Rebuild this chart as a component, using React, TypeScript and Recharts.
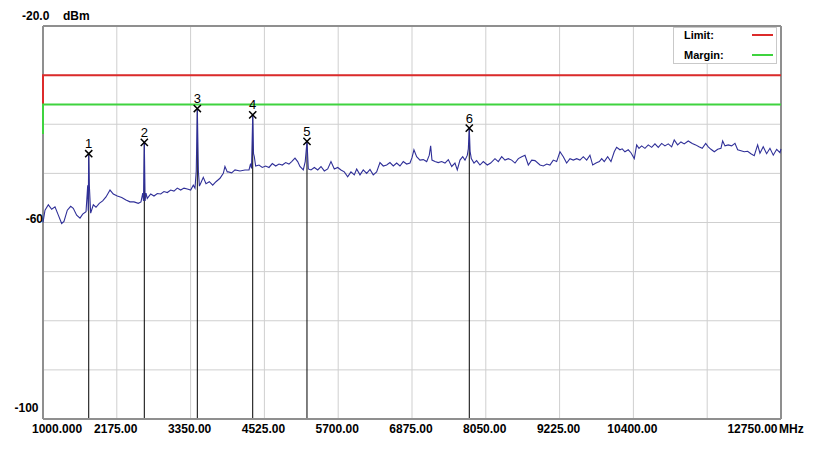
import { ComposedChart, Line, Scatter, XAxis, YAxis, CartesianGrid, ReferenceLine, Legend } from 'recharts'

const FONT = "'Liberation Sans', Arial, sans-serif"

// axis ticks (MHz / dBm)
const freqTicks = [1000, 2175, 3350, 4525, 5700, 6875, 8050, 9225, 10400, 11575, 12750]
const freqLabels = ['1000.000', '2175.00', '3350.00', '4525.00', '5700.00', '6875.00', '8050.00', '9225.00', '10400.00', '', '12750.00']
const levelTicks = [-100, -90, -80, -70, -60, -50, -40, -30, -20]

// measured trace [MHz, dBm]
const trace: [number, number][] = [
  [1000, -60.0], [1032, -57.5], [1085, -56.4], [1138, -57.3], [1191, -56.8], [1244, -58.5], [1297, -60.2],
  [1334, -59.8], [1387, -57.5], [1441, -56.7], [1482, -57.1], [1536, -58.5], [1589, -59.1], [1632, -58.3],
  [1685, -57.8], [1712, -52.4], [1720, -57.6], [1728, -46.0], [1738, -52.5], [1759, -58.1], [1801, -56.4],
  [1844, -56.9], [1896, -56.1], [1950, -55.6], [2003, -54.8], [2067, -53.4], [2119, -54.2], [2183, -54.6],
  [2253, -54.9], [2321, -55.4], [2385, -55.8], [2449, -55.8], [2517, -56.1], [2560, -55.8], [2588, -54.0],
  [2600, -55.6], [2613, -43.7], [2626, -55.6], [2640, -54.0], [2660, -55.1], [2715, -54.2], [2767, -54.6],
  [2820, -54.1], [2874, -54.2], [2926, -53.7], [2979, -53.9], [3033, -53.4], [3085, -53.6], [3138, -53.0],
  [3192, -53.4], [3245, -53.0], [3297, -53.2], [3351, -53.4], [3393, -52.4], [3420, -53.0], [3440, -49.5],
  [3457, -36.8], [3474, -49.5], [3490, -52.6], [3511, -52.0], [3552, -50.8], [3595, -52.1], [3648, -51.7],
  [3702, -52.4], [3754, -51.7], [3818, -51.0], [3871, -50.0], [3897, -48.6], [3934, -49.7], [3950, -49.7],
  [4004, -49.9], [4057, -49.3], [4136, -49.5], [4216, -49.3], [4280, -49.3], [4305, -48.0], [4320, -49.0],
  [4339, -38.1], [4352, -46.0], [4364, -46.6], [4386, -48.5], [4439, -48.3], [4491, -48.8], [4545, -48.5],
  [4598, -48.8], [4651, -48.0], [4705, -48.5], [4757, -48.1], [4810, -48.3], [4864, -47.8], [4916, -48.1],
  [4959, -47.6], [5012, -46.9], [5055, -47.6], [5091, -48.6], [5144, -49.3], [5175, -47.6], [5203, -43.5],
  [5224, -49.1], [5267, -49.3], [5320, -48.8], [5374, -49.3], [5426, -48.6], [5479, -49.5], [5533, -49.1],
  [5585, -47.6], [5638, -49.1], [5692, -48.8], [5744, -49.3], [5797, -49.7], [5851, -50.7], [5903, -49.7],
  [5956, -50.3], [5994, -49.1], [6047, -50.3], [6099, -49.3], [6153, -50.0], [6206, -49.2], [6258, -50.3],
  [6312, -49.7], [6365, -47.8], [6418, -48.5], [6472, -48.3], [6524, -47.8], [6577, -48.5], [6631, -47.9],
  [6683, -48.5], [6736, -47.6], [6790, -48.1], [6843, -47.9], [6875, -46.8], [6906, -45.2], [6949, -46.6],
  [7002, -47.3], [7055, -47.2], [7109, -47.6], [7150, -46.3], [7172, -44.4], [7193, -47.3], [7241, -47.6],
  [7293, -47.8], [7347, -47.6], [7400, -47.9], [7453, -47.2], [7507, -48.6], [7559, -47.9], [7596, -49.3],
  [7639, -47.3], [7682, -46.6], [7719, -47.3], [7756, -46.3], [7772, -45.0], [7787, -40.8], [7800, -45.5],
  [7819, -47.0], [7862, -47.9], [7904, -47.4], [7957, -48.3], [8010, -47.6], [8074, -48.3], [8127, -47.9],
  [8196, -47.0], [8249, -47.6], [8303, -46.6], [8355, -47.3], [8408, -47.0], [8462, -47.3], [8515, -47.9],
  [8568, -47.0], [8622, -46.6], [8674, -46.3], [8727, -48.3], [8781, -47.3], [8833, -47.4], [8913, -48.3],
  [8966, -48.5], [9020, -48.1], [9071, -48.3], [9124, -47.3], [9178, -47.6], [9231, -45.6], [9284, -46.6],
  [9337, -47.9], [9390, -47.0], [9443, -47.3], [9497, -47.0], [9549, -47.3], [9602, -46.6], [9656, -47.3],
  [9708, -46.3], [9752, -48.3], [9805, -47.9], [9858, -47.6], [9895, -47.0], [9936, -47.6], [9990, -46.6],
  [10043, -47.6], [10095, -45.6], [10133, -44.7], [10186, -45.2], [10222, -45.0], [10265, -45.6], [10318, -45.2],
  [10361, -45.8], [10414, -47.0], [10452, -44.2], [10489, -44.9], [10531, -44.4], [10584, -44.9], [10637, -44.2],
  [10691, -44.7], [10743, -44.0], [10796, -44.7], [10850, -43.9], [10902, -44.4], [10955, -44.0], [11009, -44.6],
  [11050, -43.2], [11104, -44.2], [11157, -43.6], [11209, -44.0], [11273, -43.4], [11337, -43.9], [11391, -44.2],
  [11444, -44.6], [11496, -44.9], [11551, -43.9], [11592, -44.6], [11635, -45.1], [11688, -45.6], [11742, -45.1],
  [11794, -44.9], [11821, -43.4], [11858, -44.4], [11910, -44.2], [11964, -44.4], [12017, -43.9], [12060, -45.2],
  [12113, -45.4], [12165, -45.6], [12219, -45.5], [12271, -46.0], [12324, -46.4], [12378, -44.2], [12415, -45.9],
  [12467, -44.6], [12521, -46.0], [12574, -44.9], [12627, -46.3], [12681, -45.1], [12734, -45.8], [12750, -45.0],
]

const limitLine: [number, number][] = [[1000, -36], [1000, -30], [12750, -30]]
const marginLine: [number, number][] = [[1000, -42], [1000, -36], [12750, -36]]

// peak markers [MHz, dBm]
const markers: [number, number][] = [
  [1728, -46.0], [2613, -43.7], [3457, -36.8], [4339, -38.1], [5203, -43.5], [7787, -40.8],
]

const toPoints = (arr: [number, number][]) => arr.map(([f, v]) => ({ f, v }))
const traceData = toPoints(trace)
const limitData = toPoints(limitLine)
const marginData = toPoints(marginLine)
const markerData = markers.map(([f, v], i) => ({ f, v, n: i + 1 }))

const BORDER = '#8f8f8f'
const labelStyle = { fontFamily: FONT, fontSize: 12, fontWeight: 'bold', fill: '#000' }

function FreqTick({ x, y, payload }: any) {
  const i = freqTicks.indexOf(payload.value)
  const label = freqLabels[i]
  if (!label) return null
  const ty = y + 13.5
  if (i === 0) {
    return <text x={x - 11} y={ty} textAnchor="start" {...labelStyle}>{label}</text>
  }
  if (i === freqTicks.length - 1) {
    return (
      <g>
        <text x={x - 3.5} y={ty} textAnchor="end" {...labelStyle}>{label}</text>
        <text x={x - 2} y={ty} textAnchor="start" {...labelStyle}>MHz</text>
      </g>
    )
  }
  return <text x={x - 1} y={ty} textAnchor="middle" {...labelStyle}>{label}</text>
}

function LevelTick({ x, y, payload }: any) {
  const v = payload.value
  if (v === -20) {
    return (
      <g>
        <text x={x - 21} y={y - 6} textAnchor="start" {...labelStyle}>-20.0</text>
        <text x={x + 20} y={y - 6} textAnchor="start" {...labelStyle}>dBm</text>
      </g>
    )
  }
  if (v === -60) return <text x={x} y={y + 0.5} textAnchor="end" {...labelStyle}>-60</text>
  if (v === -100) return <text x={x - 4.5} y={y - 7.5} textAnchor="end" {...labelStyle}>-100</text>
  return null
}

function MarkerShape({ cx, cy, payload }: any) {
  const s = 3.6
  return (
    <g>
      <path
        d={`M${cx - s},${cy - s}L${cx + s},${cy + s}M${cx + s},${cy - s}L${cx - s},${cy + s}`}
        stroke="#000"
        strokeWidth={1.5}
        fill="none"
      />
      <text x={cx} y={cy - 5.5} textAnchor="middle" fontFamily={FONT} fontSize={13} fill="#000">
        {payload.n}
      </text>
    </g>
  )
}

function LimitLegend({ payload }: any) {
  const items = (payload || []).filter((p: any) => p.type !== 'none')
  return (
    <div
      style={{
        position: 'relative',
        width: 104,
        height: 37,
        boxSizing: 'border-box',
        border: '1px solid #c9c9c9',
        background: '#fff',
        fontFamily: FONT,
        fontSize: 11,
        fontWeight: 'bold',
        color: '#000',
      }}
    >
      {items.map((p: any, i: number) => (
        <div key={p.value}>
          <span style={{ position: 'absolute', left: 10, top: 0 + i * 20, lineHeight: '14px' }}>{p.value}</span>
          <div
            style={{
              position: 'absolute',
              left: 78,
              top: 6 + i * 20,
              width: 21,
              height: 2,
              background: p.color,
            }}
          />
        </div>
      ))}
    </div>
  )
}

export default function App() {
  return (
    <ComposedChart width={810} height={440} margin={{ top: 18, right: 37, left: 0, bottom: 0 }}>
      <CartesianGrid stroke="#cfcfcf" />
      <XAxis
        type="number"
        dataKey="f"
        domain={[1000, 12750]}
        ticks={freqTicks}
        interval={0}
        height={29}
        tickLine={false}
        tickSize={0}
        tickMargin={0}
        axisLine={{ stroke: BORDER, strokeWidth: 2 }}
        tick={<FreqTick />}
      />
      <YAxis
        type="number"
        dataKey="v"
        domain={[-100, -20]}
        ticks={levelTicks}
        interval={0}
        width={35}
        tickLine={false}
        tickSize={0}
        tickMargin={0}
        axisLine={false}
        tick={<LevelTick />}
      />
      <ReferenceLine x={1000} stroke={BORDER} strokeWidth={2} zIndex={50} />
      <ReferenceLine y={-20} stroke={BORDER} strokeWidth={2} zIndex={50} />
      <ReferenceLine x={12750} stroke={BORDER} strokeWidth={2} zIndex={50} />
      {markerData.map((m) => (
        <ReferenceLine
          key={m.n}
          segment={[{ x: m.f, y: m.v }, { x: m.f, y: -100 }]}
          stroke="#000"
          strokeWidth={1}
          zIndex={60}
        />
      ))}
      <Line
        data={limitData}
        dataKey="v"
        name="Limit:"
        type="linear"
        stroke="#dc2b2b"
        strokeWidth={2}
        dot={false}
        zIndex={900}
        isAnimationActive={false}
      />
      <Line
        data={marginData}
        dataKey="v"
        name="Margin:"
        type="linear"
        stroke="#3fd33f"
        strokeWidth={2}
        dot={false}
        zIndex={900}
        isAnimationActive={false}
      />
      <Line
        data={traceData}
        dataKey="v"
        name="Trace"
        type="linear"
        stroke="#2f2f98"
        strokeWidth={1.1}
        dot={false}
        legendType="none"
        zIndex={800}
        isAnimationActive={false}
      />
      <Scatter
        data={markerData}
        dataKey="v"
        shape={<MarkerShape />}
        legendType="none"
        zIndex={1000}
        isAnimationActive={false}
      />
      <Legend
        layout="vertical"
        align="center"
        verticalAlign="middle"
        wrapperStyle={{ left: 665, top: 19, width: 104, height: 37 }}
        content={<LimitLegend />}
      />
    </ComposedChart>
  )
}
